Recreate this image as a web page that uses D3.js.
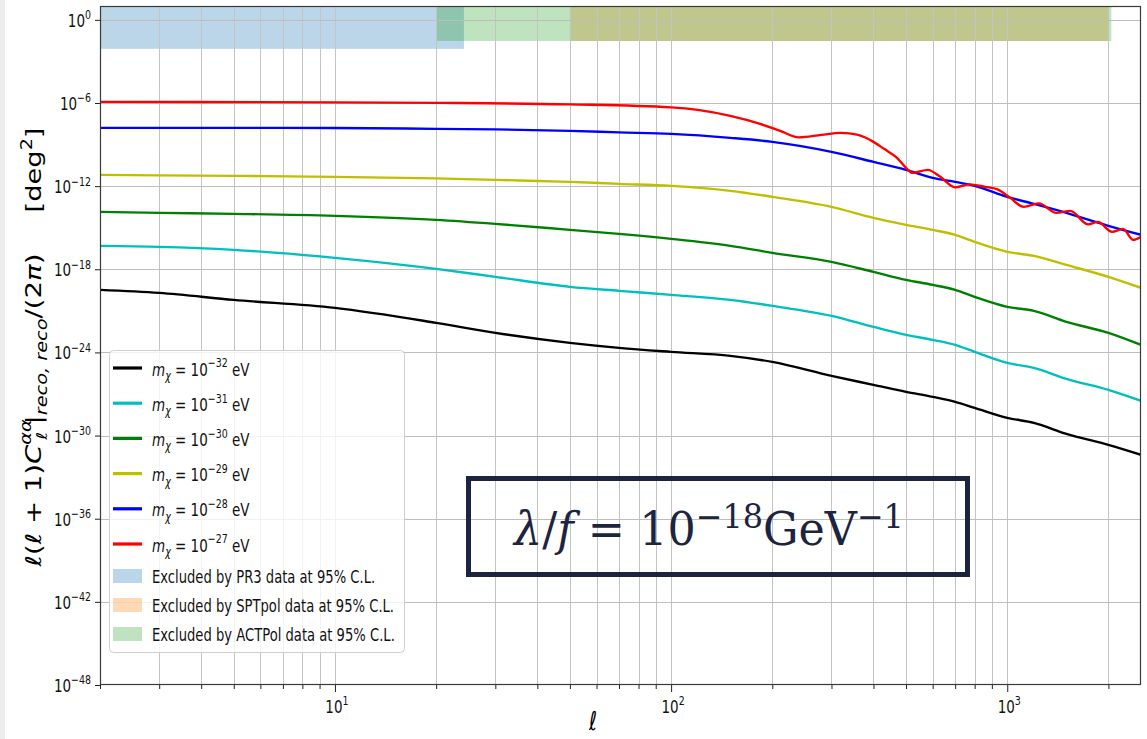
<!DOCTYPE html>
<html><head><meta charset="utf-8">
<script src="https://cdn.jsdelivr.net/npm/d3@7/dist/d3.min.js"></script>
<style>html,body{margin:0;padding:0;background:#fff;}svg{display:block;}</style>
</head><body>
<svg id="chart" width="1147" height="739"></svg>
<script>
// ---------------- data ----------------
const ell = [2,3,5,10,20,30,50,70,100,150,200,300,400,500,600,700,800,1000,1200,1500,2000,2500];
const mass32 = [3.27e-20,1.99e-20,6.2e-21,1.64e-21,1.36e-22,2.58e-23,4.9e-24,2.14e-24,1.1e-24,5.65e-25,2.08e-25,2.04e-26,4.56e-27,1.43e-27,6.2e-28,2.71e-28,1.0e-28,1.9e-29,8.3e-30,1.33e-30,2.13e-31,4.06e-32];
const mass31 = [4.9e-17,4.15e-17,2.52e-17,6.7e-18,1.07e-18,2.84e-19,5.4e-20,2.77e-20,1.43e-20,6.2e-21,2.3e-21,4.35e-22,7.0e-23,1.85e-23,8.1e-24,3.5e-24,1.1e-24,1.77e-25,7.7e-26,1.24e-26,1.99e-27,3.2e-28];
const mass30 = [1.39e-14,1.18e-14,1.0e-14,7.2e-15,3.7e-15,1.9e-15,7.0e-16,3.6e-16,1.57e-16,4.9e-17,1.53e-17,3.44e-18,6.5e-19,1.73e-19,7.5e-20,3.27e-20,1.02e-20,1.95e-21,1.0e-21,1.61e-22,2.58e-23,3.5e-24];
const mass29 = [6.5e-12,6.0e-12,5.5e-12,4.7e-12,3.65e-12,2.84e-12,2.04e-12,1.46e-12,1.05e-12,4.57e-13,1.69e-13,3.2e-14,5.1e-15,1.61e-15,7.0e-16,3.05e-16,9.5e-17,1.81e-17,9.3e-18,2.08e-18,2.84e-19,4.57e-20];
const mass28 = [1.61e-8,1.6e-8,1.6e-8,1.58e-8,1.36e-8,1.25e-8,9.8e-9,7.6e-9,5.9e-9,3.05e-9,1.57e-9,2.98e-10,5.66e-11,1.5e-11,3.96e-12,2.04e-12,1.05e-12,1.69e-13,5.27e-14,1.18e-14,1.36e-15,3.05e-16];
const ellRed = [2,10,20,50,100,120,150,184,211,240,280,320,360,400,430,470,500,522,580,632,700,770,860,935,1020,1120,1240,1400,1540,1740,1860,2050,2210,2370,2500];
const mass27 = [1.21e-6,1.11e-6,1.02e-6,7.98e-7,4.84e-7,3.2e-7,1.18e-7,3.13e-8,9.8e-9,3.3e-9,5.0e-9,7.0e-9,5.0e-9,1.57e-9,4.9e-10,1.1e-10,2.09e-11,9.1e-12,1.5e-11,4.7e-12,8.2e-13,1.35e-12,8.9e-13,5.9e-13,1.43e-13,3.2e-14,5.7e-14,1.18e-14,1.64e-14,1.75e-15,2.64e-15,5.0e-16,8.3e-16,1.33e-16,2.19e-16];
const massExps = ["−32","−31","−30","−29","−28","−27"];

const bandNames = ["PR3","SPTpol","ACTPol"];
const bandEllMin = [2, 50, 20];
const bandEllMax = [24.2, 2000, 2040];
const bandFloor = [8.1e-3, 3.0e-2, 3.0e-2];
const bandTop = 10;

const yTickExps = [0,-6,-12,-18,-24,-30,-36,-42,-48];
const xTickExps = [1,2,3];

// ---------------- styles ----------------
const lineColors = ["#000000","#00bfbf","#008000","#bfbf00","#0000ff","#ff0000"];
const bandColors = ["#1f77b4","#ff7f0e","#2ca02c"];
const SX = 0.75; // horizontal compression of the source picture's text

const W = 1147, H = 739;
const M = {l:100, r:1141, t:6, b:685};
const svg = d3.select("#chart");

const x = d3.scaleLog().domain([2, 2500]).range([M.l, M.r]);
const y = d3.scaleLog().domain([1e-48, 10]).range([M.b, M.t]);

// left screenshot edge
svg.append("rect").attr("x",0).attr("y",0).attr("width",5).attr("height",H).attr("fill","#ececec");

svg.append("defs").append("clipPath").attr("id","clip")
  .append("rect").attr("x",M.l).attr("y",M.t).attr("width",M.r-M.l).attr("height",M.b-M.t);

// rich text helper
function richText(parent, px, py, parts, o) {
  const g = parent.append("g").attr("transform", `translate(${px},${py}) scale(${o.sx ?? 1},1)`);
  const t = g.append("text").attr("text-anchor", o.anchor || "start")
    .attr("font-family", o.family || "DejaVu Sans").attr("font-size", o.size)
    .attr("fill", o.fill || "#000");
  if (o.weight) t.attr("font-weight", o.weight);
  let cur = 0;
  parts.forEach(p => {
    const ts = t.append("tspan").text(p.t);
    let target = 0;
    const small = p.size ? p.size : o.size*0.7;
    if (p.sup) { ts.attr("font-size", small); target = -o.size*(p.raise ?? 0.42); }
    if (p.sub) { ts.attr("font-size", small); target = o.size*(p.drop ?? 0.22); }
    if (target !== cur) { ts.attr("dy", target-cur); cur = target; }
    if (p.it) ts.attr("font-style","italic");
    if (p.dx) ts.attr("dx", p.dx);
  });
  return {g, t};
}

const plot = svg.append("g").attr("clip-path","url(#clip)");

// exclusion bands
bandNames.forEach((n,i) => {
  plot.append("rect")
    .attr("x", x(bandEllMin[i]))
    .attr("width", x(bandEllMax[i]) - x(bandEllMin[i]))
    .attr("y", y(bandTop))
    .attr("height", y(bandFloor[i]) - y(bandTop))
    .attr("fill", bandColors[i]).attr("fill-opacity", 0.3);
});

// grid
const xTicksAll = x.ticks();
const yTickVals = yTickExps.map(e => Math.pow(10, e));
plot.append("g").selectAll("line").data(xTicksAll).join("line")
  .attr("x1", d => Math.round(x(d))+0.5).attr("x2", d => Math.round(x(d))+0.5)
  .attr("y1", M.t).attr("y2", M.b)
  .attr("stroke", "#c4c4c4").attr("stroke-width", 1);
plot.append("g").selectAll("line").data(yTickVals).join("line")
  .attr("x1", M.l).attr("x2", M.r)
  .attr("y1", d => Math.round(y(d))+0.5).attr("y2", d => Math.round(y(d))+0.5)
  .attr("stroke", "#bdbdbd").attr("stroke-width", 1);

// curves
const series = [
  {ell: ell, v: mass32}, {ell: ell, v: mass31}, {ell: ell, v: mass30},
  {ell: ell, v: mass29}, {ell: ell, v: mass28}, {ell: ellRed, v: mass27}
];
const lineGen = d3.line().x(d => x(d[0])).y(d => y(d[1])).curve(d3.curveMonotoneX);
series.forEach((s,i) => {
  plot.append("path").datum(s.ell.map((l,k) => [l, s.v[k]]))
    .attr("d", lineGen).attr("fill","none")
    .attr("stroke", lineColors[i]).attr("stroke-width", 2.4)
    .attr("stroke-linejoin","round");
});

// axes ticks
const xAx = svg.append("g").attr("transform", `translate(0,${M.b})`)
  .call(d3.axisBottom(x).tickValues(xTicksAll).tickSize(4).tickFormat(""));
xAx.select(".domain").remove();
xAx.selectAll(".tick line").attr("stroke","#222").attr("stroke-width",1)
  .filter(d => Math.abs(Math.log10(d) - Math.round(Math.log10(d))) < 1e-9).attr("y2", 7);

const yAx = svg.append("g").attr("transform", `translate(${M.l},0)`)
  .call(d3.axisLeft(y).tickValues(yTickVals).tickSize(5).tickFormat(""));
yAx.select(".domain").remove();
yAx.selectAll(".tick line").attr("stroke","#222");

// spines
svg.append("rect").attr("x", M.l+0.5).attr("y", M.t+0.5)
  .attr("width", M.r-M.l-1).attr("height", M.b-M.t-1)
  .attr("fill","none").attr("stroke","#3a3a3a").attr("stroke-width",1.2);

// tick labels
yTickExps.forEach(e => {
  richText(svg, 91, y(Math.pow(10,e)) + 7, [{t:"10"},{t: e===0 ? "0" : "−"+Math.abs(e), sup:true}],
    {anchor:"end", size:18, sx:SX, fill:"#111"});
});
xTickExps.forEach(e => {
  richText(svg, x(Math.pow(10,e)) + 2, 713, [{t:"10"},{t: String(e), sup:true}],
    {anchor:"middle", size:18, sx:SX, fill:"#111"});
});

// axis labels
richText(svg, 593, 730, [{t:"ℓ", it:true}], {anchor:"middle", size:26, sx:SX});

function rotatedLabel(parts, cy, len, size, weight) {
  const g = svg.append("g");
  const r = richText(g, 0, 0, parts, {anchor:"middle", size:size, weight:weight});
  const w = r.t.node().getBBox().width;
  r.g.attr("transform", `translate(41,${cy}) rotate(-90) scale(${len/w},0.8)`);
}
rotatedLabel([{t:"[deg"},{t:"2", sup:true},{t:"]"}], 170, 85, 27);
rotatedLabel([
  {t:"ℓ", it:true},{t:"("},{t:"ℓ", it:true},{t:" + 1)"},{t:"C", it:true},
  {t:"αα", it:true, sup:true, raise:0.45},
  {t:"ℓ", it:true, sub:true, drop:0.3, dx:-20},
  {t:"|", dx:7},
  {t:"reco, reco", it:true, sub:true, drop:0.3},
  {t:"/(2"},{t:"π", it:true},{t:")"}
], 410, 314, 27);

// legend
const leg = svg.append("g");
leg.append("rect").attr("x",109.5).attr("y",350.5).attr("width",295).attr("height",302)
  .attr("rx",4).attr("fill","#fff").attr("fill-opacity",0.8)
  .attr("stroke","#cfcfcf").attr("stroke-width",1);
massExps.forEach((e,i) => {
  const cy = 368 + i*35.2;
  leg.append("line").attr("x1",113).attr("x2",142).attr("y1",cy).attr("y2",cy)
    .attr("stroke", lineColors[i]).attr("stroke-width",3.2);
  richText(leg, 152, cy + 7.5, [
    {t:"m", it:true},{t:"χ", it:true, sub:true, drop:0.25},{t:" = "},{t:"10"},
    {t: e, sup:true, raise:0.45},{t:" eV"}
  ], {size:18, sx:SX, fill:"#111"});
});
bandNames.forEach((n,i) => {
  const cy = 576 + i*29;
  leg.append("rect").attr("x",113).attr("y",cy-7).attr("width",29).attr("height",14)
    .attr("fill", bandColors[i]).attr("fill-opacity",0.3);
  richText(leg, 152, cy + 6.5, [{t:`Excluded by ${n} data at 95% C.L.`}],
    {size:18, sx:0.73, fill:"#111"});
});

// annotation box
const ann = svg.append("g");
ann.append("rect").attr("x",468.5).attr("y",478.5).attr("width",499).attr("height",96)
  .attr("fill","none").attr("stroke","#1d2440").attr("stroke-width",5);
const at = richText(ann, 0, 0, [
  {t:"λ", it:true},{t:"/"},{t:"f", it:true},{t:" = 10"},{t:"−18", sup:true, size:33, raise:0.38},
  {t:"GeV"},{t:"−1", sup:true, size:33, raise:0.38}
], {size:46, family:"DejaVu Serif", fill:"#1d2440"});
const aw = at.t.node().getBBox().width;
at.g.attr("transform", `translate(514,545) scale(${392/aw},1)`);
</script>
</body></html>
